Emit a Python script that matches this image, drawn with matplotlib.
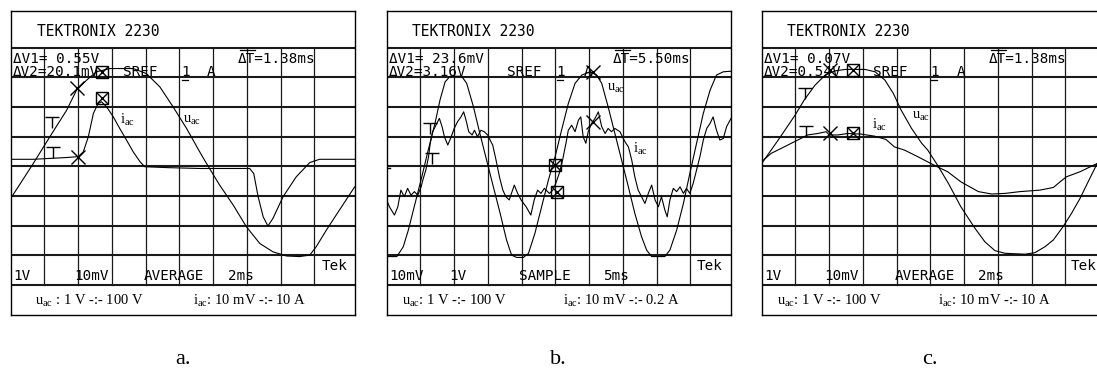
import matplotlib
matplotlib.use("Agg")
import matplotlib.pyplot as plt
from matplotlib.path import Path

# ---------------- data (time in divisions, amplitude in divisions; grid 0..8) -------------
# panel a
a_u_t = [0, 0.67, 1.16, 1.66, 1.95, 2.25, 2.54, 2.94, 3.63, 4.02, 4.42, 4.81, 5.21, 5.60,
         5.80, 6.19, 6.59, 6.98, 7.38, 7.77, 8.17, 8.56, 8.86, 9.05, 9.35, 9.74, 10.19]
a_u_v = [2.92, 4.10, 5.00, 5.90, 6.57, 6.91, 7.19, 7.30, 7.30, 7.13, 6.68, 6.01, 5.28, 4.49,
         4.10, 3.37, 2.70, 1.97, 1.40, 1.12, 0.98, 0.96, 1.01, 1.29, 1.85, 2.53, 3.31]
a_i_t = [0, 0.67, 1.16, 1.66, 2.00, 2.15, 2.30, 2.45, 2.59, 2.69, 2.84, 3.04, 3.23, 3.43,
         3.63, 3.83, 3.97, 4.62, 5.60, 6.59, 7.08, 7.20, 7.33, 7.48, 7.62, 7.77, 8.07, 8.46,
         8.86, 9.15, 10.19]
a_i_v = [4.24, 4.24, 4.27, 4.30, 4.33, 4.49, 5.00, 5.79, 6.12, 6.18, 6.01, 5.67, 5.28, 4.89,
         4.49, 4.16, 3.99, 3.96, 3.93, 3.93, 3.93, 3.76, 2.98, 2.30, 1.99, 2.25, 2.98, 3.65,
         4.13, 4.24, 4.24]
a_x_t, a_x_v = [1.97, 2.00], [6.63, 4.33]
a_b_t, a_b_v = [2.69, 2.69], [7.19, 6.29]
a_T_t, a_T_v = [1.21, 1.26], [5.65, 4.66]

# panel b
b_u_t = [0, 0.30, 0.49, 0.64, 0.84, 1.04, 1.23, 1.43, 1.58, 1.73, 1.88, 2.22, 2.37, 2.57,
         2.76, 2.96, 3.16, 3.36, 3.55, 3.70, 3.85, 4.05, 4.20, 4.39, 4.59, 4.79, 4.99, 5.18,
         5.38, 5.58, 5.78, 6.02, 6.22, 6.37, 6.56, 6.76, 6.96, 7.16, 7.35, 7.55, 7.70, 7.85,
         8.24, 8.39, 8.59, 8.79, 8.98, 9.18, 9.38, 9.58, 9.77, 9.97, 10.20]
b_u_v = [0.96, 0.96, 1.29, 1.85, 2.75, 3.65, 4.55, 5.45, 6.24, 6.85, 7.04, 7.04, 6.80, 6.01,
         5.11, 4.21, 3.31, 2.42, 1.52, 1.01, 0.93, 0.93, 1.07, 1.74, 2.64, 3.54, 4.33, 5.22,
         6.12, 6.80, 7.08, 7.19, 7.08, 6.80, 6.01, 5.11, 4.21, 3.31, 2.42, 1.63, 1.18, 0.96,
         0.96, 1.18, 1.85, 2.75, 3.76, 4.78, 5.79, 6.57, 7.08, 7.19, 7.21]
b_i_t = [0, 0.08, 0.23, 0.33, 0.42, 0.52, 0.62, 0.72, 0.82, 0.92, 1.02, 1.07, 1.16, 1.24,
         1.29, 1.36, 1.46, 1.56, 1.64, 1.71, 1.81, 1.91, 2.00, 2.10, 2.20, 2.28, 2.35, 2.43,
         2.53, 2.60, 2.69, 2.79, 2.89, 2.99, 3.09, 3.14, 3.24, 3.34, 3.44, 3.53, 3.63, 3.78,
         3.88, 3.98, 4.13, 4.27, 4.37, 4.47, 4.57, 4.67, 4.82, 4.92, 5.01, 5.11, 5.21, 5.31,
         5.38, 5.48, 5.58, 5.68, 5.75, 5.82, 5.90, 5.97, 6.07, 6.17, 6.27, 6.37, 6.47, 6.56,
         6.66, 6.76, 6.91, 7.06, 7.16, 7.26, 7.35, 7.45, 7.55, 7.65, 7.75, 7.85, 7.95, 8.05,
         8.14, 8.24, 8.31, 8.39, 8.49, 8.59, 8.69, 8.79, 8.88, 8.98, 9.08, 9.18, 9.28, 9.38,
         9.48, 9.58, 9.67, 9.77, 9.87, 9.97, 10.07, 10.20]
b_i_v = [2.87, 2.64, 2.36, 2.64, 3.20, 2.98, 3.26, 3.03, 3.15, 3.03, 3.31, 3.54, 3.88, 4.33,
         4.78, 5.17, 5.39, 5.62, 5.34, 5.00, 4.72, 5.00, 5.28, 5.51, 5.67, 5.84, 5.56, 5.17,
         5.06, 5.22, 5.00, 5.22, 5.17, 5.06, 4.83, 4.72, 4.21, 3.65, 3.20, 2.98, 2.87, 3.37,
         3.09, 2.87, 2.64, 2.36, 2.87, 3.20, 3.09, 3.26, 3.09, 3.20, 3.43, 3.76, 4.21, 4.78,
         5.22, 5.39, 5.17, 5.56, 5.67, 5.00, 4.78, 5.17, 5.45, 5.62, 5.84, 5.34, 5.11, 5.28,
         5.17, 5.28, 5.17, 4.83, 4.66, 4.21, 3.65, 3.20, 2.98, 2.75, 3.09, 3.37, 2.87, 2.64,
         2.98, 2.53, 2.30, 2.87, 3.26, 3.15, 3.31, 3.09, 3.26, 3.09, 3.43, 3.88, 4.33, 4.89,
         5.28, 5.45, 5.67, 5.22, 4.89, 4.94, 5.34, 5.62]
b_x_t, b_x_v = [6.12, 6.12], [7.19, 5.51]
b_b_t, b_b_v = [4.99, 5.06], [4.04, 3.15]
b_T_t, b_T_v = [1.28, 1.33], [5.45, 4.44]

# panel c
c_u_t = [0, 0.49, 0.99, 1.26, 1.58, 1.88, 2.17, 2.47, 3.06, 3.36, 3.65, 3.90, 4.13, 4.44,
         4.74, 4.92, 5.21, 5.53, 5.90, 6.32, 6.61, 6.91, 7.21, 7.80, 8.09, 8.39, 8.64, 8.93,
         9.18, 9.43, 9.67, 9.94, 10.2]
c_u_v = [4.10, 4.89, 5.73, 6.24, 6.74, 7.08, 7.22, 7.27, 7.27, 7.19, 6.91, 6.46, 5.90, 5.28,
         4.78, 4.55, 4.04, 3.43, 2.64, 1.91, 1.46, 1.16, 1.07, 1.04, 1.09, 1.29, 1.52, 1.97,
         2.42, 2.92, 3.48, 4.10, 4.40]
c_i_t = [0, 0.28, 0.67, 1.07, 1.36, 1.66, 1.91, 2.00, 2.25, 2.55, 2.94, 3.34, 3.68, 3.93,
         4.23, 4.62, 5.11, 5.51, 5.90, 6.42, 6.81, 7.21, 7.65, 8.24, 8.64, 8.84, 9.03, 9.43,
         9.94, 10.2]
c_i_v = [4.16, 4.44, 4.66, 4.89, 5.06, 5.11, 5.17, 5.06, 5.06, 5.11, 5.09, 5.02, 4.91, 4.66,
         4.55, 4.33, 4.04, 3.82, 3.48, 3.15, 3.07, 3.09, 3.15, 3.20, 3.29, 3.48, 3.65, 3.82,
         4.10, 4.15]
c_x_t, c_x_v = [2.02, 2.02], [7.25, 5.11]
c_b_t, c_b_v = [2.71, 2.71], [7.25, 5.11]
c_T_t, c_T_v = [1.28, 1.31], [6.63, 5.37]

# texts
titles = ["TEKTRONIX 2230"] * 3
dv1 = ["\u0394V1= 0.55V", "\u0394V1= 23.6mV", "\u0394V1= 0.07V"]
dv2 = ["\u0394V2=20.1mV", "\u0394V2=3.16V", "\u0394V2=0.54V"]
dts = ["\u0394T=1.38ms", "\u0394T=5.50ms", "\u0394T=1.38ms"]
ch_a = ["1V", "10mV", "1V"]
ch_b = ["10mV", "1V", "10mV"]
modes = ["AVERAGE", "SAMPLE", "AVERAGE"]
timebase = ["2ms", "5ms", "2ms"]
cap_u = [r"$\mathregular{u_{ac}}$ : 1 V -:- 100 V", r"$\mathregular{u_{ac}}$: 1 V -:- 100 V",
         r"$\mathregular{u_{ac}}$: 1 V -:- 100 V"]
cap_i = [r"$\mathregular{i_{ac}}$: 10 mV -:- 10 A", r"$\mathregular{i_{ac}}$: 10 mV -:- 0.2 A",
         r"$\mathregular{i_{ac}}$: 10 mV -:- 10 A"]
panel_letters = ["a.", "b.", "c."]

# ---------------- drawing -------------
W, H = 1097, 369
fig = plt.figure(figsize=(W / 100, H / 100), dpi=100)
fig.patch.set_facecolor("white")

MONO = "DejaVu Sans Mono"
SERIF = "Liberation Serif"
plt.rcParams["mathtext.fontset"] = "custom"
plt.rcParams["mathtext.rm"] = SERIF

T_marker = Path([(-0.6, 0), (0.6, 0), (0, 0), (0, -1)],
                [Path.MOVETO, Path.LINETO, Path.MOVETO, Path.LINETO])

panel_left_px = [10.7, 386.7, 761.7]
box_w_px, box_top_px, box_bot_px = 344.3, 11, 315
XMAX, YMIN, YMAX = 10.2, -1.01, 9.24

panels = [
    (a_u_t, a_u_v, a_i_t, a_i_v, a_x_t, a_x_v, a_b_t, a_b_v, a_T_t, a_T_v),
    (b_u_t, b_u_v, b_i_t, b_i_v, b_x_t, b_x_v, b_b_t, b_b_v, b_T_t, b_T_v),
    (c_u_t, c_u_v, c_i_t, c_i_v, c_x_t, c_x_v, c_b_t, c_b_v, c_T_t, c_T_v),
]
# text x positions (divisions) per panel
title_x = [0.77, 0.74, 0.74]
sref_x = [3.33, 3.55, 3.30]
one_x = [5.06, 5.03, 4.99]
a_x = [5.80, 5.85, 5.78]
dt_x = [6.74, 6.71, 6.73]
chA_x = [0.08, 0.08, 0.07]
chB_x = [1.87, 1.85, 1.85]
mode_x = [3.93, 3.92, 3.95]
tb_x = [6.44, 6.42, 6.42]
tek_x = [9.20, 9.18, 9.16]
capu_x = [0.72, 0.44, 0.44]
capi_x = [5.40, 5.23, 5.23]
lab_u = [(5.10, 5.55), (6.52, 6.63), (4.44, 5.67)]
lab_i = [(3.23, 5.55), (7.30, 4.60), (3.26, 5.40)]

for k in range(3):
    ut, uv, it, iv, xt, xv, bt, bv, Tt, Tv = panels[k]
    l = panel_left_px[k] / W
    b = (H - box_bot_px) / H
    w = box_w_px / W
    h = (box_bot_px - box_top_px) / H
    ax = fig.add_axes([l, b, w, h])
    ax.set_xlim(0, XMAX)
    ax.set_ylim(YMIN, YMAX)
    ax.set_xticks([])
    ax.set_yticks([])
    for s in ax.spines.values():
        s.set_linewidth(1.0)
        s.set_color("black")
    # grid
    for gy in range(0, 9):
        ax.plot([0, XMAX], [gy, gy], color="#1a1a1a", lw=1.5, zorder=1)
    for gx in range(1, 10):
        ax.plot([gx, gx], [0, 8], color="#1a1a1a", lw=0.9, zorder=1)
    # traces
    ax.plot(ut, uv, color="black", lw=0.8, zorder=3)
    ax.plot(it, iv, color="black", lw=0.8, zorder=3)
    # cursors
    ax.plot(xt, xv, ls="none", marker="x", ms=9.5, mew=1.0, color="black", zorder=4)
    ax.plot(bt, bv, ls="none", marker="s", ms=9, mew=1.0, mfc="none", mec="black", zorder=4)
    ax.plot(bt, bv, ls="none", marker="x", ms=9, mew=1.0, color="black", zorder=4)
    ax.plot(Tt, Tv, ls="none", marker=T_marker, ms=16, mew=1.0, color="black", zorder=4)
    if k == 1:
        ax.plot([0, 0.1], [3.93, 3.93], color="black", lw=1.0)
    # readout texts
    fs = 10.3
    ax.text(title_x[k], 8.55, titles[k], family=MONO, fontsize=10.5, va="center")
    ax.text(0.06, 7.63, dv1[k], family=MONO, fontsize=fs, va="center")
    ax.text(0.06, 7.20, dv2[k], family=MONO, fontsize=fs, va="center")
    ax.text(sref_x[k], 7.20, "SREF", family=MONO, fontsize=fs, va="center")
    ax.text(one_x[k], 7.20, "1", family=MONO, fontsize=fs, va="center")
    ax.plot([one_x[k] + 0.02, one_x[k] + 0.2], [6.93, 6.93], color="black", lw=0.9)
    ax.text(a_x[k], 7.20, "A", family=MONO, fontsize=fs, va="center")
    ax.text(dt_x[k], 7.63, dts[k], family=MONO, fontsize=fs, va="center")
    ax.plot([dt_x[k] + 0.05, dt_x[k] + 0.5], [7.93, 7.93], color="black", lw=0.9)
    ax.text(chA_x[k], 0.30, ch_a[k], family=MONO, fontsize=fs, va="center")
    ax.text(chB_x[k], 0.30, ch_b[k], family=MONO, fontsize=fs, va="center")
    ax.text(mode_x[k], 0.30, modes[k], family=MONO, fontsize=fs, va="center")
    ax.text(tb_x[k], 0.30, timebase[k], family=MONO, fontsize=fs, va="center")
    ax.text(tek_x[k], 0.63, "Tek", family=MONO, fontsize=fs, va="center")
    # captions
    ax.text(capu_x[k], -0.52, cap_u[k], family=SERIF, fontsize=10.5, va="center")
    ax.text(capi_x[k], -0.52, cap_i[k], family=SERIF, fontsize=10.5, va="center")
    ax.text(lab_u[k][0], lab_u[k][1], r"$\mathregular{u_{ac}}$", family=SERIF, fontsize=10.5,
            va="center")
    ax.text(lab_i[k][0], lab_i[k][1], r"$\mathregular{i_{ac}}$", family=SERIF, fontsize=10.5,
            va="center")

# panel letters
letter_x_px = [183, 558, 930]
for k in range(3):
    fig.text(letter_x_px[k] / W, 1 - 360 / H, panel_letters[k], family=SERIF, fontsize=16,
             ha="center", va="center")

fig.savefig("out.png", dpi=100, facecolor="white")
